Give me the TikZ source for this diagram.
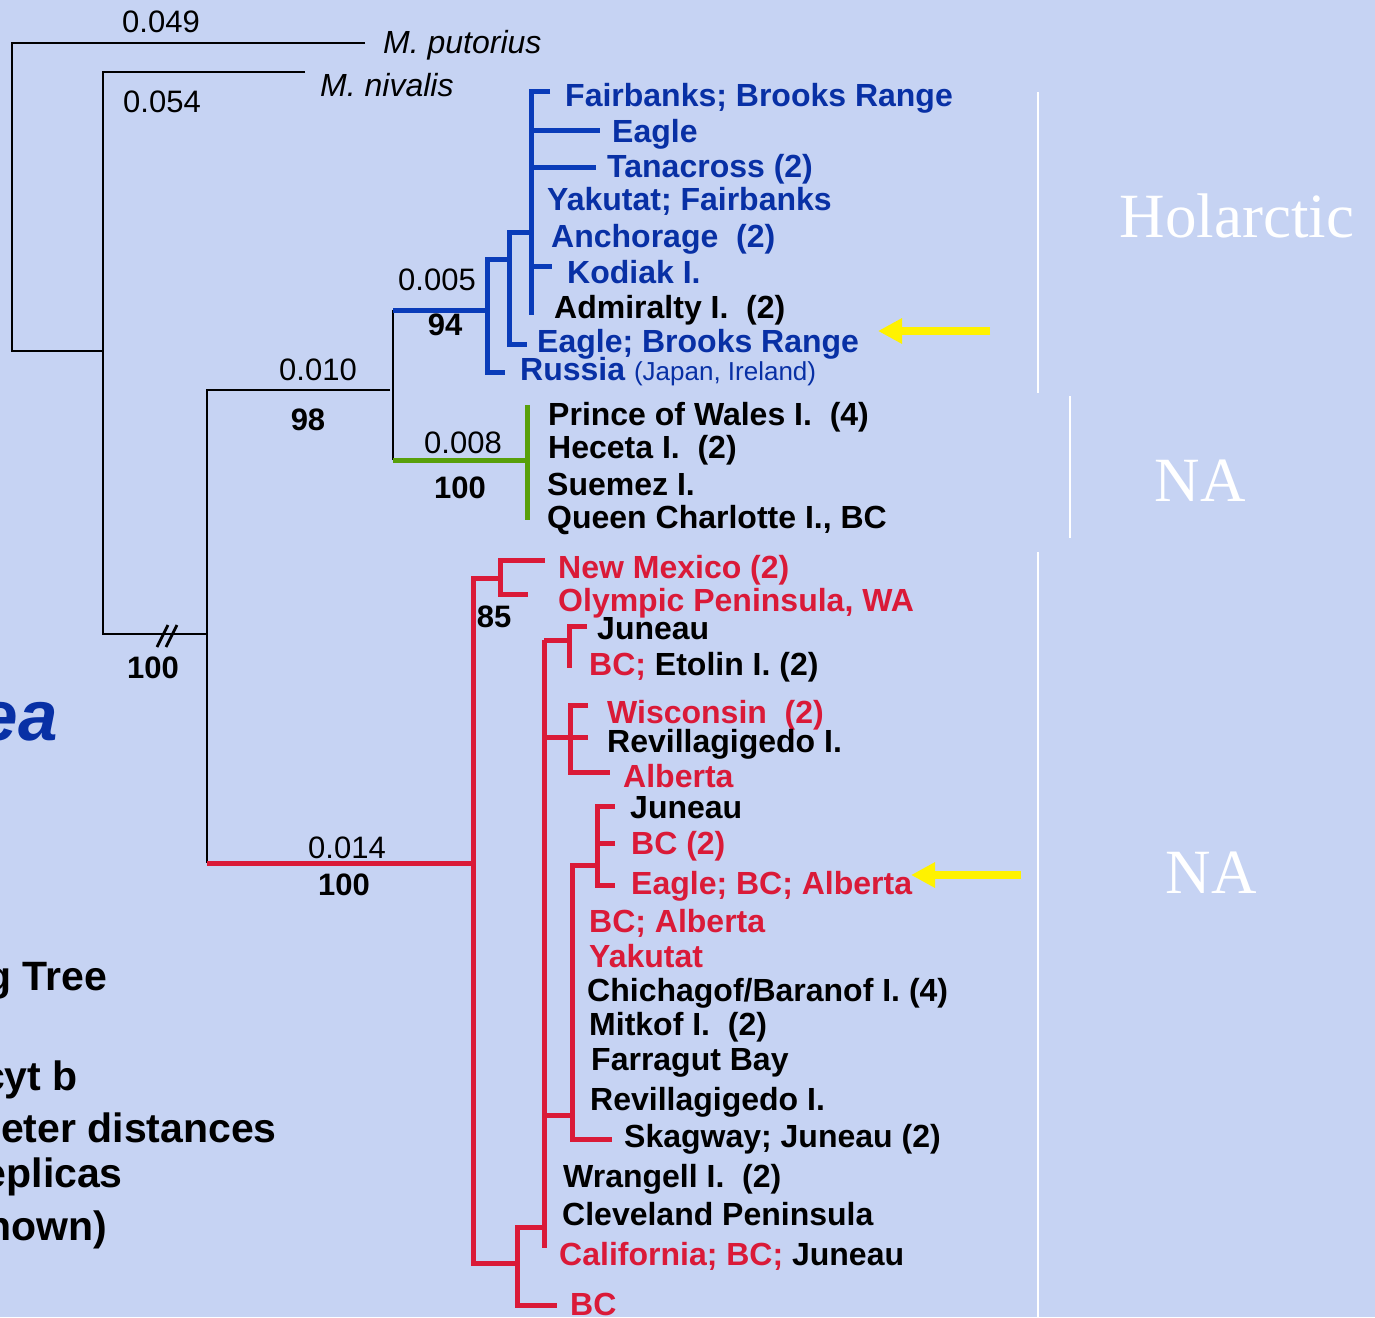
\documentclass[tikz,border=0pt]{standalone}
\usepackage{fontspec}
\setmainfont{Liberation Sans}
\newfontfamily\romfont{Liberation Serif}
\usetikzlibrary{arrows.meta}

\definecolor{bgblue}{RGB}{198,211,243}
\definecolor{taxblue}{RGB}{8,48,165}
\definecolor{lineblue}{RGB}{10,60,185}
\definecolor{taxred}{RGB}{218,26,56}
\definecolor{taxgreen}{RGB}{88,160,10}

\newcommand{\taxfont}{\fontsize{32}{38}\selectfont\bfseries}
\newcommand{\lenfont}{\fontsize{31}{36}\selectfont}
\newcommand{\bootfont}{\fontsize{31}{36}\selectfont\bfseries}
\newcommand{\sidefont}{\fontsize{41}{48}\selectfont\bfseries}

\begin{document}
\begin{tikzpicture}[x=1pt, y=-1pt,
    taxon/.style = {anchor=base west, inner sep=0pt, font=\taxfont},
    blu/.style = {taxon, text=taxblue},
    rd/.style = {taxon, text=taxred},
    blk/.style = {taxon, text=black},
    len/.style = {anchor=base, inner sep=0pt, font=\lenfont},
    boot/.style = {anchor=base, inner sep=0pt, font=\bootfont},
    side/.style = {anchor=base east, inner sep=0pt, font=\sidefont},
    region/.style = {anchor=base, inner sep=0pt, text=white, font=\romfont\fontsize{63}{70}\selectfont},
    blkline/.style = {draw=black, line width=2.8pt},
    bluline/.style = {draw=lineblue, line width=5pt},
    redline/.style = {draw=taxred, line width=5pt},
    grnline/.style = {draw=taxgreen, line width=5pt},
    bound/.style = {draw=white, line width=2pt},
    yarrow/.style = {draw=yellow, line width=8pt, -{Triangle[length=24pt,width=24pt]}}]
    \useasboundingbox (0,0) rectangle (1375,1317);
    \clip (0,0) rectangle (1375,1317);
    \fill[bgblue] (0,0) rectangle (1375,1317);

    \draw[blkline] (365,43) -- (12,43) -- (12,351) -- (103,351);
    \draw[blkline] (305,72) -- (103,72) -- (103,634) -- (207,634);
    \draw[blkline] (157,647) -- (168,625) (166,647) -- (177,625);
    \draw[blkline] (390,390) -- (207,390) -- (207,863);
    \draw[blkline] (393,310) -- (393,460);

    \draw[bluline] (393,310) -- (487,310);
    \draw[bluline] (505,259) -- (487,259) -- (487,372) -- (505,372);
    \draw[bluline] (487,259) -- (509,259);
    \draw[bluline] (531,232) -- (509,232) -- (509,344) -- (527,344);
    \draw[bluline] (550,91) -- (531,91) -- (531,315);
    \draw[bluline] (531,130) -- (600,130) (531,167) -- (596,167) (531,266) -- (552,266);

    \draw[grnline] (393,460) -- (527,460) (527,405) -- (527,520);

    \draw[redline] (207,863) -- (473,863);
    \draw[redline] (500,578) -- (473,578) -- (473,1263) -- (517,1263);
    \draw[redline] (545,560) -- (500,560) -- (500,594) -- (528,594);
    \draw[redline] (544,1227) -- (517,1227) -- (517,1305) -- (557,1305);
    \draw[redline] (544,640) -- (544,1248);
    \draw[redline] (544,640) -- (569,640) (587,626) -- (569,626) -- (569,668);
    \draw[redline] (544,737) -- (588,737) (588,705) -- (570,705) -- (570,772) -- (610,772);
    \draw[redline] (544,1115) -- (572,1115) (597,865) -- (572,865) -- (572,1139) -- (612,1139);
    \draw[redline] (615,806) -- (597,806) -- (597,885) -- (615,885) (597,843) -- (615,843);

    \node[len] (l049) at (161,32) {0.049};
    \node[len] (l054) at (162,112) {0.054};
    \node[len] (l005) at (437,290) {0.005};
    \node[len] (l010) at (318,380) {0.010};
    \node[len] (l008) at (463,453) {0.008};
    \node[len] (l014) at (347,858) {0.014};
    \node[boot] (b94) at (445,335) {94};
    \node[boot] (b98) at (308,430) {98};
    \node[boot] (b100g) at (460,498) {100};
    \node[boot] (b100a) at (153,678) {100};
    \node[boot] (b100r) at (344,895) {100};
    \node[boot] (b85) at (494,627) {85};

    \node[taxon, font=\taxfont\mdseries\itshape] (puto) at (383,53) {M. putorius};
    \node[taxon, font=\taxfont\mdseries\itshape] (niva) at (320,96) {M. nivalis};

    \node[blu] (fairb) at (565,106) {Fairbanks; Brooks Range};
    \node[blu] (eagleA) at (612,142) {Eagle};
    \node[blu] (tanac) at (607,177) {Tanacross (2)};
    \node[blu] (yakfa) at (547,210) {Yakutat; Fairbanks};
    \node[blu] (ancho) at (551,247) {Anchorage\ \ (2)};
    \node[blu] (kodia) at (567,283) {Kodiak I.};
    \node[blk] (admir) at (554,318) {Admiralty I.\ \ (2)};
    \node[blu] (eagleB) at (537,352) {Eagle; Brooks Range};
    \node[blu] (russ) at (520,380) {Russia {\fontsize{26}{30}\selectfont\mdseries (Japan, Ireland)}};

    \node[blk] (pwal) at (548,425) {Prince of Wales I.\ \ (4)};
    \node[blk] (hece) at (548,458) {Heceta I.\ \ (2)};
    \node[blk] (suem) at (547,495) {Suemez I.};
    \node[blk] (qcha) at (547,528) {Queen Charlotte I., BC};

    \node[rd] (newm) at (558,578) {New Mexico (2)};
    \node[rd] (olym) at (558,611) {Olympic Peninsula, WA};
    \node[blk] (juneA) at (597,639) {Juneau};
    \node[rd] (etol) at (589,675) {BC; \textcolor{black}{Etolin I. (2)}};
    \node[rd] (wisc) at (607,723) {Wisconsin\ \ (2)};
    \node[blk] (reviA) at (607,752) {Revillagigedo I.};
    \node[rd] (albA) at (623,787) {Alberta};
    \node[blk] (juneB) at (630,818) {Juneau};
    \node[rd] (bcTwo) at (631,854) {BC (2)};
    \node[rd] (eagleC) at (631,894) {Eagle; BC; Alberta};
    \node[rd] (bcAlb) at (589,932) {BC; Alberta};
    \node[rd] (yaku) at (589,967) {Yakutat};
    \node[blk] (chic) at (587,1001) {Chichagof/Baranof I. (4)};
    \node[blk] (mitk) at (589,1035) {Mitkof I.\ \ (2)};
    \node[blk] (farr) at (591,1070) {Farragut Bay};
    \node[blk] (reviB) at (590,1110) {Revillagigedo I.};
    \node[blk] (skag) at (624,1147) {Skagway; Juneau (2)};
    \node[blk] (wran) at (563,1187) {Wrangell I.\ \ (2)};
    \node[blk] (clev) at (562,1225) {Cleveland Peninsula};
    \node[rd] (cali) at (559,1265) {California; BC; \textcolor{black}{Juneau}};
    \node[rd] (bcEnd) at (570,1315) {BC};

    \draw[yarrow] (990,331) -- (878,331);
    \draw[yarrow] (1021,875) -- (911,875);

    \draw[bound] (1038,92) -- (1038,393);
    \draw[bound] (1070,396) -- (1070,538);
    \draw[bound] (1038,552) -- (1038,1317);
    \node[region] (holar) at (1237,237) {Holarctic};
    \node[region] (naA) at (1200,501) {NA};
    \node[region] (naB) at (1211,893) {NA};

    \node[side, font=\fontsize{71}{80}\selectfont\bfseries\itshape, text=taxblue] (spec) at (58,740) {ea};
    \node[side] (tree) at (107,990) {g Tree};
    \node[side] (gene) at (78,1090) {cyt b};
    \node[side] (dist) at (277,1142) {eter distances};
    \node[side] (repl) at (123,1187) {eplicas};
    \node[side] (shwn) at (107,1240) {hown)};
\end{tikzpicture}
\end{document}
